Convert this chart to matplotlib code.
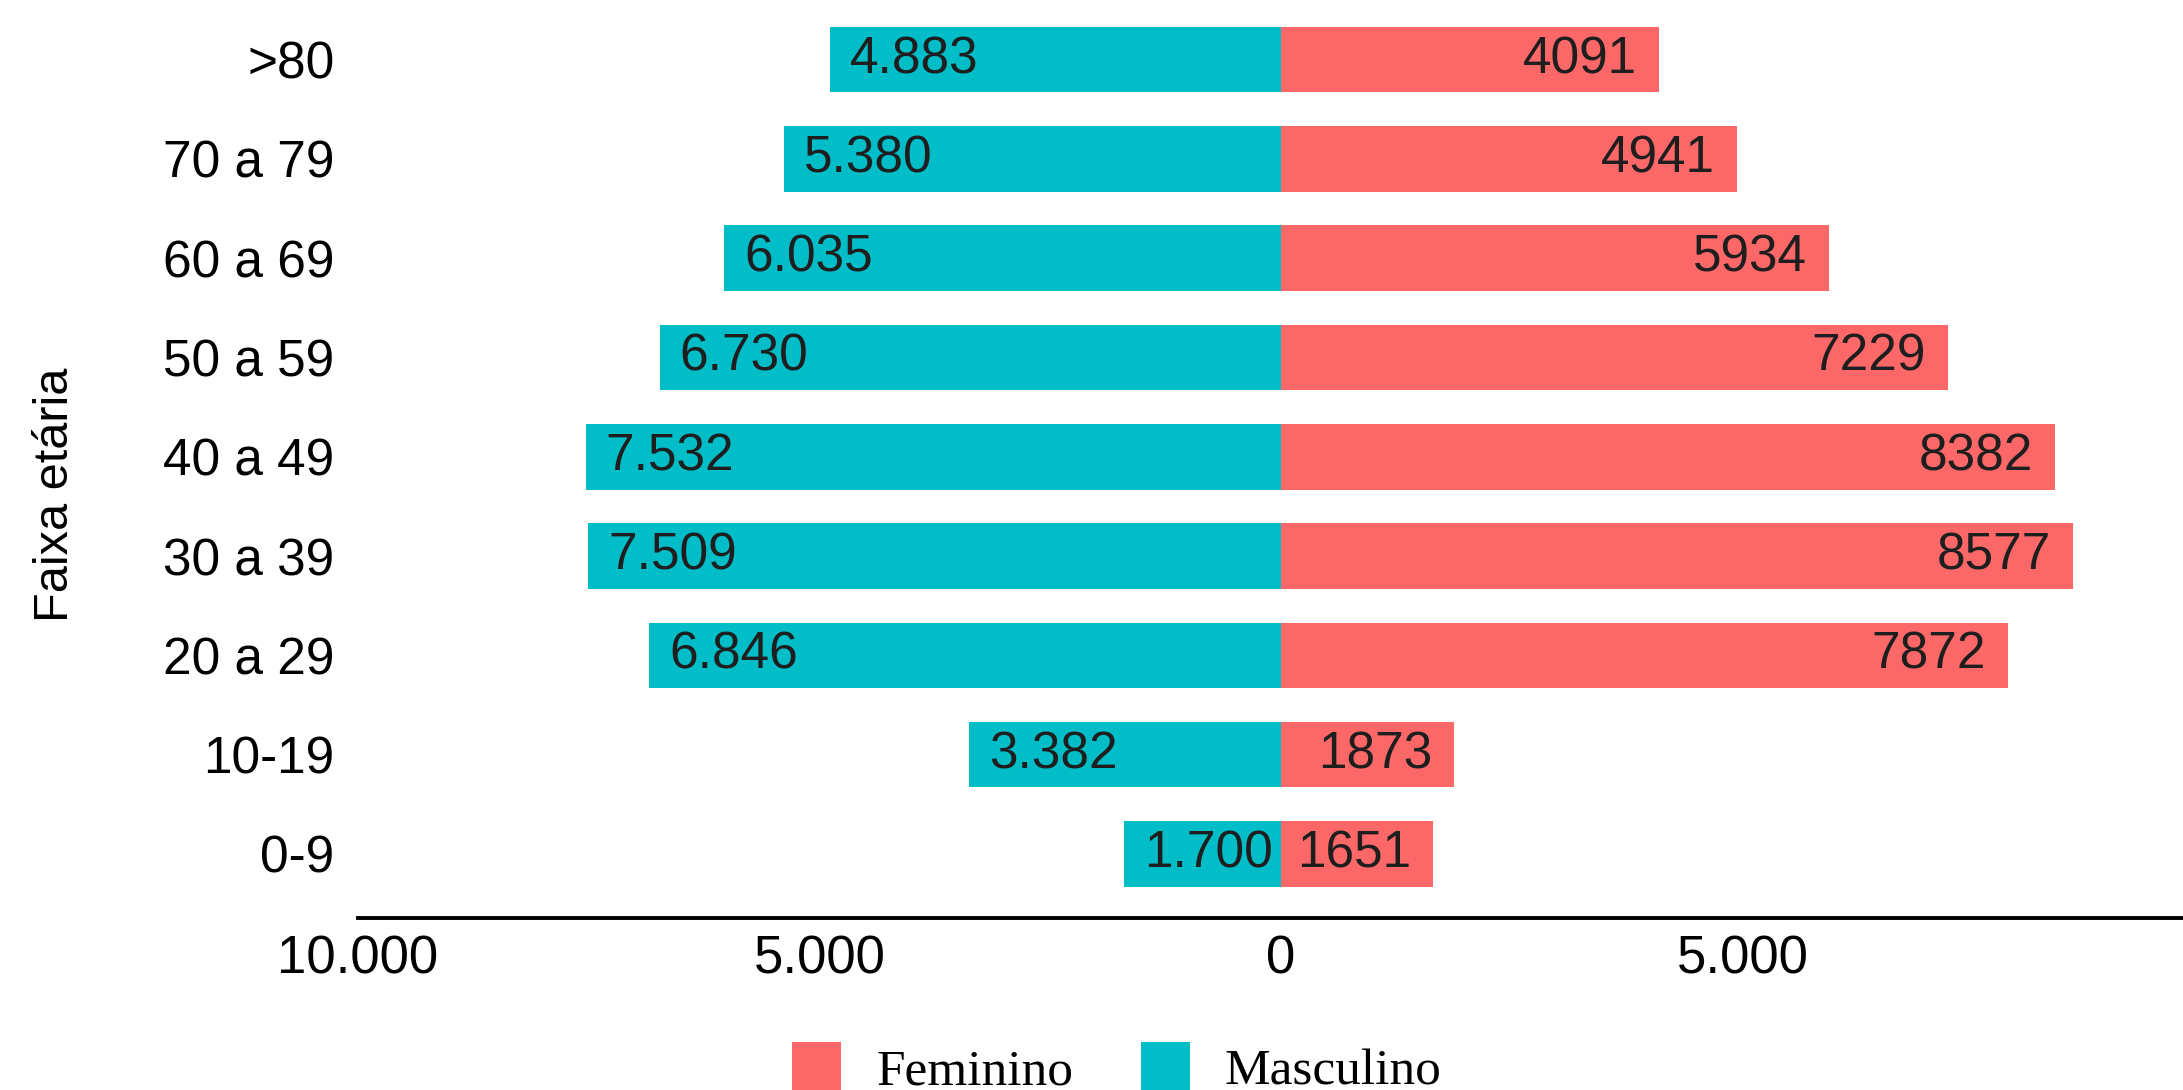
import matplotlib
matplotlib.use("Agg")
import matplotlib.pyplot as plt
from matplotlib.patches import Patch

categories = ["0-9", "10-19", "20 a 29", "30 a 39", "40 a 49", "50 a 59", "60 a 69", "70 a 79", ">80"]
masculino = [1700, 3382, 6846, 7509, 7532, 6730, 6035, 5380, 4883]
feminino = [1651, 1873, 7872, 8577, 8382, 7229, 5934, 4941, 4091]
xticks = [-10000, -5000, 0, 5000]
xticklabels = ["10.000", "5.000", "0", "5.000"]

RED = "#FC6868"
CYAN = "#00BDC7"
SANS = ["Liberation Sans", "DejaVu Sans"]
SERIF = ["Liberation Serif", "DejaVu Serif"]

fig = plt.figure(figsize=(21.83, 10.90), dpi=100)
ax = fig.add_axes([358 / 2183, 1 - 918 / 1090, 1846 / 2183, 918 / 1090])

y = list(range(len(categories)))
neg_m = [-v for v in masculino]
bm = ax.barh(y, neg_m, height=0.66, color=CYAN, edgecolor="none")
bf = ax.barh(y, feminino, height=0.66, color=RED, edgecolor="none")

for yi, v in zip(y, masculino):
    ax.annotate(f"{v:,}".replace(",", "."), xy=(-v, yi), xytext=(20, 0),
                textcoords="offset pixels", ha="left", va="center",
                fontsize=37, family=SANS, color="#1e1e1e")
for yi, v in zip(y, feminino):
    ax.annotate(f"{v}", xy=(v, yi), xytext=(-22, 0),
                textcoords="offset pixels", ha="right", va="center",
                fontsize=37, family=SANS, color="#1e1e1e")

ax.set_xlim(-10000, 10000)
ax.set_ylim(-0.645, 8.6)
ax.set_yticks(y)
ax.set_yticklabels(categories, fontsize=37, family=SANS)
ax.set_xticks(xticks)
ax.set_xticklabels(xticklabels, fontsize=38, family=SANS)
ax.tick_params(axis="y", length=0, pad=17)
ax.tick_params(axis="x", length=0, pad=12)
for s in ["top", "right", "left"]:
    ax.spines[s].set_visible(False)
ax.spines["bottom"].set_linewidth(2.8)
ax.spines["bottom"].set_color("black")

fig.text(56 / 2183, 1 - 495 / 1090, "Faixa etária", rotation=90,
         ha="center", va="center", fontsize=35, family=SANS)

handles = [Patch(facecolor=RED, edgecolor="none", label="Feminino"),
           Patch(facecolor=CYAN, edgecolor="none", label="Masculino")]
fig.legend(handles=handles, loc="upper center", bbox_to_anchor=(1117 / 2183, 1 - 1042 / 1090),
           ncol=2, frameon=False, prop={"family": SERIF, "size": 37},
           handlelength=0.95, handleheight=1.1, handletextpad=0.68,
           columnspacing=1.32, borderpad=0, borderaxespad=0)

fig.savefig("out.png", dpi=100)
